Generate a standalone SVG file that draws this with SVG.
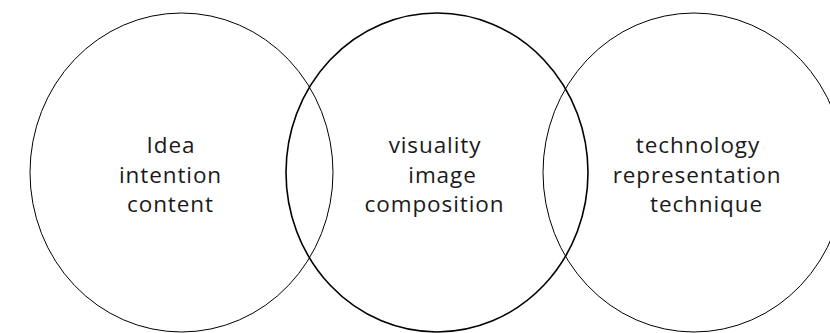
<svg xmlns="http://www.w3.org/2000/svg" width="830" height="333" viewBox="0 0 830 333">
<style>
.c{fill:none;stroke:#000;stroke-width:1}
.t{font-family:"Open Sans","Liberation Sans",sans-serif;font-size:22.5px;font-weight:400;fill:#1a1a1a;text-anchor:middle;letter-spacing:0.9px;font-variant-ligatures:none}
</style>
<rect width="830" height="333" fill="#fff"/>
<g id="left">
<ellipse class="c" cx="181.5" cy="172.5" rx="151.5" ry="159.5"/>
<text class="t" x="171" y="153">Idea</text>
<text class="t" x="170.5" y="183">intention</text>
<text class="t" x="170.5" y="212">content</text>
</g>
<g id="middle">
<ellipse class="c" cx="437" cy="172.5" rx="151" ry="159.5" style="stroke-width:1.6"/>
<text class="t" x="435" y="153">visuality</text>
<text class="t" x="442.5" y="183">image</text>
<text class="t" x="434.5" y="212">composition</text>
</g>
<g id="right">
<ellipse class="c" cx="694" cy="172.5" rx="151" ry="159.5"/>
<text class="t" x="698" y="153">technology</text>
<text class="t" x="697" y="183">representation</text>
<text class="t" x="706.5" y="212">technique</text>
</g>
<g id="connectors"></g>
</svg>
